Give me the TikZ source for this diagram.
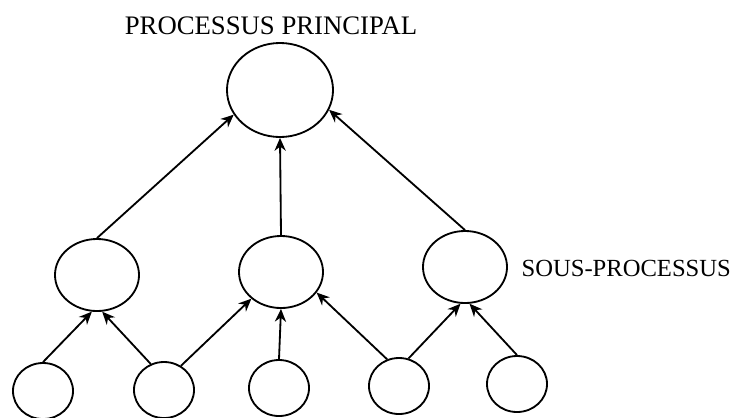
\documentclass[tikz,border=0pt]{standalone}
\usepackage{fontspec}
\setmainfont{Liberation Serif}
\usetikzlibrary{arrows.meta, shapes.geometric}
\begin{document}
\begin{tikzpicture}[x=0.025cm, y=-0.025cm, line width=1.3pt,
    proc/.style={draw, ellipse, minimum width=2.65cm, minimum height=2.35cm},
    subproc/.style={draw, ellipse, minimum width=2.1cm, minimum height=1.8cm},
    leaf/.style={draw, ellipse, minimum width=1.5cm, minimum height=1.4cm},
    lbl/.style={font=\fontsize{17.5}{21}\selectfont},
    link/.style={-{Stealth[length=3.2mm, width=2.8mm]}}]
  \useasboundingbox (0, 0) rectangle (740, 417);
  % nodes
  \node[proc] (main) at (280, 90) {};
  \node[subproc] (s1) at (97, 275) {};
  \node[subproc] (s2) at (281, 272) {};
  \node[subproc] (s3) at (465, 267) {};
  \node[leaf] (l1) at (43, 391) {};
  \node[leaf] (l2) at (164, 390) {};
  \node[leaf] (l3) at (279, 388) {};
  \node[leaf] (l4) at (399, 386) {};
  \node[leaf] (l5) at (517, 384) {};
  % labels
  \node[lbl, font=\fontsize{19}{22}\selectfont] (mainlbl) at (271, 26) {PROCESSUS PRINCIPAL};
  \node[lbl, anchor=west] (sublbl) at (516, 268) {SOUS-PROCESSUS};
  % lines
  \draw[link] (s1.north) -- (main.-152);
  \draw[link] (s2.north) -- (main.south);
  \draw[link] (s3.north) -- (main.-22);
  \draw[link] (l1.north) -- (s1.-98);
  \draw[link] (l2.117) -- (s1.-82);
  \draw[link] (l2.55) -- (s2.-138);
  \draw[link] (l3.north) -- (s2.south);
  \draw[link] (l4.114) -- (s2.-30);
  \draw[link] (l4.71) -- (s3.-97);
  \draw[link] (l5.north) -- (s3.-83);
\end{tikzpicture}
\end{document}
